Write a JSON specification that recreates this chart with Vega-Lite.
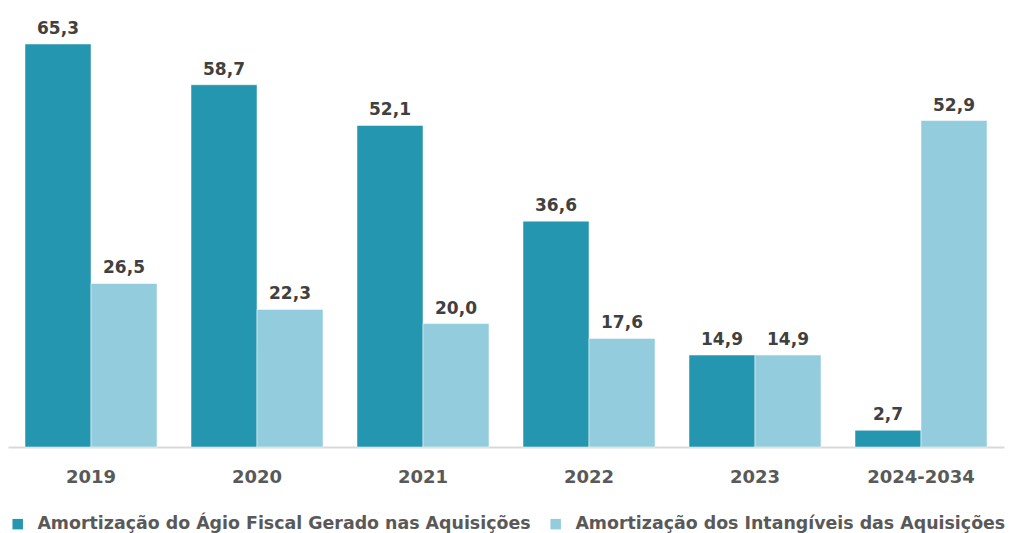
{
  "$schema": "https://vega.github.io/schema/vega-lite/v6.json",
  "autosize": {"type": "none"},
  "padding": {"left": 8, "top": 15, "right": 9, "bottom": 86},
  "width": 996,
  "height": 432,
  "background": "white",
  "data": {"values": [
    {"periodo": "2019", "serie": "Amortização do Ágio Fiscal Gerado nas Aquisições", "valor": 65.3},
    {"periodo": "2019", "serie": "Amortização dos Intangíveis das Aquisições", "valor": 26.5},
    {"periodo": "2020", "serie": "Amortização do Ágio Fiscal Gerado nas Aquisições", "valor": 58.7},
    {"periodo": "2020", "serie": "Amortização dos Intangíveis das Aquisições", "valor": 22.3},
    {"periodo": "2021", "serie": "Amortização do Ágio Fiscal Gerado nas Aquisições", "valor": 52.1},
    {"periodo": "2021", "serie": "Amortização dos Intangíveis das Aquisições", "valor": 20.0},
    {"periodo": "2022", "serie": "Amortização do Ágio Fiscal Gerado nas Aquisições", "valor": 36.6},
    {"periodo": "2022", "serie": "Amortização dos Intangíveis das Aquisições", "valor": 17.6},
    {"periodo": "2023", "serie": "Amortização do Ágio Fiscal Gerado nas Aquisições", "valor": 14.9},
    {"periodo": "2023", "serie": "Amortização dos Intangíveis das Aquisições", "valor": 14.9},
    {"periodo": "2024-2034", "serie": "Amortização do Ágio Fiscal Gerado nas Aquisições", "valor": 2.7},
    {"periodo": "2024-2034", "serie": "Amortização dos Intangíveis das Aquisições", "valor": 52.9}
  ]},
  "encoding": {
    "x": {
      "field": "periodo", "type": "nominal", "sort": null,
      "scale": {"paddingInner": 0.2048, "paddingOuter": 0.1024},
      "axis": {
        "title": null, "labelAngle": 0, "ticks": false, "domainColor": "#d9d9d9", "domainWidth": 2,
        "labelFont": "DejaVu Sans", "labelFontSize": 18, "labelFontWeight": "bold", "labelColor": "#595959",
        "labelPadding": 21
      }
    },
    "xOffset": {"field": "serie", "type": "nominal", "sort": null, "scale": {"paddingInner": 0, "paddingOuter": 0}},
    "y": {
      "field": "valor", "type": "quantitative",
      "scale": {"domain": [0, 70], "nice": false},
      "axis": null
    }
  },
  "layer": [
    {
      "mark": {"type": "bar", "stroke": "white", "strokeWidth": 0.5},
      "encoding": {
        "color": {
          "field": "serie", "type": "nominal", "sort": null,
          "scale": {"range": ["#2596AF", "#93CDDD"]},
          "legend": {
            "title": null, "orient": "none", "direction": "horizontal", "legendX": 1, "legendY": 500,
            "symbolType": "square", "symbolSize": 110, "symbolStrokeWidth": 0,
            "labelFont": "DejaVu Sans", "labelFontSize": 17.4, "labelFontWeight": "bold", "labelColor": "#595959",
            "columnPadding": 16, "labelOffset": 11, "labelLimit": 600
          }
        }
      }
    },
    {
      "mark": {"type": "text", "baseline": "bottom", "dy": -6, "font": "DejaVu Sans", "fontSize": 17, "fontWeight": "bold", "color": "#404040"},
      "encoding": {
        "text": {"field": "valor", "type": "quantitative", "format": ".1f"}
      }
    }
  ],
  "config": {
    "view": {"stroke": null},
    "locale": {"number": {"decimal": ",", "thousands": ".", "grouping": [3], "currency": ["R$", ""]}}
  }
}
